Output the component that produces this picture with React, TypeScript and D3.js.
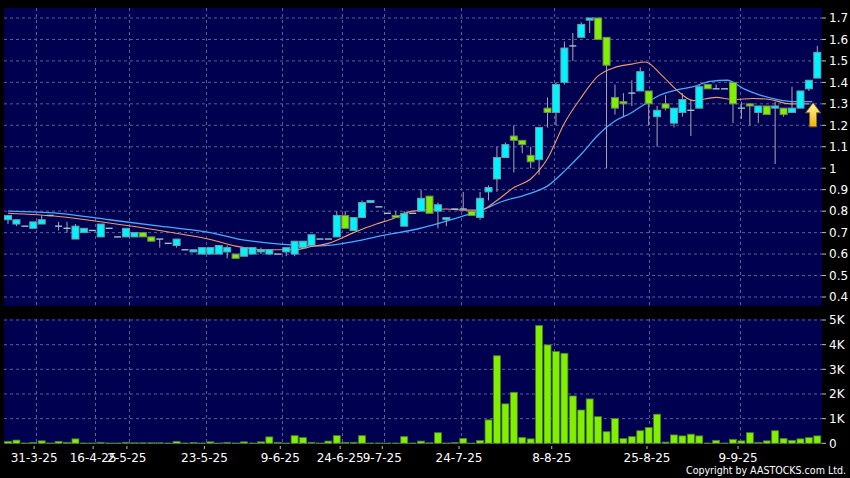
import React, { useEffect, useRef } from 'react';
import * as d3 from 'd3';

// daily OHLC, one entry per trading day shown (97 days)
const opens = [
  0.76, 0.74, 0.73, 0.72, 0.74, 0.78, 0.73, 0.72, 0.67, 0.70,
  0.71, 0.68, 0.72, 0.68, 0.68, 0.68, 0.70, 0.68, 0.67, 0.65,
  0.64, 0.62, 0.61, 0.60, 0.60, 0.60, 0.61, 0.60, 0.59, 0.60,
  0.61, 0.60, 0.60, 0.61, 0.60, 0.63, 0.64, 0.67, 0.67, 0.68,
  0.78, 0.71, 0.77, 0.84, 0.82, 0.79, 0.78, 0.73, 0.79, 0.80,
  0.87, 0.80, 0.76, 0.81, 0.81, 0.80, 0.77, 0.89, 0.95, 1.05,
  1.15, 1.13, 1.06, 1.04, 1.28, 1.26, 1.40, 1.57, 1.61, 1.69,
  1.70, 1.61, 1.33, 1.31, 1.35, 1.36, 1.36, 1.24, 1.30, 1.21,
  1.26, 1.27, 1.28, 1.39, 1.37, 1.37, 1.40, 1.28, 1.30, 1.26,
  1.29, 1.28, 1.28, 1.26, 1.28, 1.37, 1.42,
];
const highs = [
  0.78, 0.76, 0.73, 0.75, 0.78, 0.78, 0.75, 0.75, 0.74, 0.72,
  0.71, 0.74, 0.72, 0.68, 0.72, 0.70, 0.70, 0.68, 0.67, 0.65,
  0.67, 0.62, 0.62, 0.63, 0.63, 0.64, 0.64, 0.60, 0.63, 0.63,
  0.63, 0.62, 0.60, 0.63, 0.66, 0.66, 0.69, 0.67, 0.67, 0.80,
  0.80, 0.77, 0.85, 0.85, 0.82, 0.79, 0.80, 0.80, 0.79, 0.90,
  0.87, 0.84, 0.77, 0.81, 0.89, 0.80, 0.89, 0.92, 1.10, 1.12,
  1.20, 1.13, 1.10, 1.19, 1.33, 1.40, 1.59, 1.63, 1.68, 1.70,
  1.70, 1.61, 1.39, 1.35, 1.41, 1.47, 1.36, 1.29, 1.34, 1.28,
  1.35, 1.32, 1.39, 1.39, 1.39, 1.37, 1.40, 1.31, 1.30, 1.29,
  1.29, 1.31, 1.28, 1.38, 1.36, 1.41, 1.57,
];
const lows = [
  0.74, 0.73, 0.73, 0.72, 0.74, 0.78, 0.71, 0.70, 0.67, 0.70,
  0.71, 0.68, 0.72, 0.68, 0.68, 0.68, 0.68, 0.66, 0.63, 0.65,
  0.63, 0.62, 0.61, 0.60, 0.60, 0.60, 0.58, 0.58, 0.59, 0.60,
  0.60, 0.60, 0.60, 0.59, 0.59, 0.63, 0.64, 0.67, 0.67, 0.68,
  0.72, 0.71, 0.77, 0.84, 0.82, 0.79, 0.77, 0.73, 0.79, 0.80,
  0.79, 0.72, 0.73, 0.81, 0.81, 0.78, 0.76, 0.85, 0.89, 1.05,
  0.98, 1.07, 1.00, 0.97, 1.19, 1.20, 1.39, 1.50, 1.61, 1.63,
  1.60, 1.00, 1.25, 1.24, 1.29, 1.36, 1.20, 1.10, 1.27, 1.19,
  1.24, 1.15, 1.28, 1.37, 1.37, 1.37, 1.21, 1.23, 1.20, 1.21,
  1.25, 1.02, 1.24, 1.26, 1.28, 1.36, 1.42,
];
const closes = [
  0.78, 0.76, 0.73, 0.75, 0.76, 0.78, 0.73, 0.72, 0.73, 0.72,
  0.71, 0.74, 0.72, 0.68, 0.72, 0.70, 0.68, 0.66, 0.67, 0.65,
  0.67, 0.62, 0.62, 0.63, 0.63, 0.64, 0.63, 0.58, 0.63, 0.63,
  0.62, 0.62, 0.60, 0.63, 0.66, 0.66, 0.69, 0.67, 0.67, 0.78,
  0.72, 0.77, 0.84, 0.85, 0.82, 0.79, 0.77, 0.79, 0.79, 0.86,
  0.79, 0.83, 0.77, 0.81, 0.81, 0.78, 0.86, 0.91, 1.05, 1.11,
  1.13, 1.11, 1.03, 1.19, 1.26, 1.39, 1.56, 1.57, 1.67, 1.70,
  1.60, 1.48, 1.28, 1.30, 1.35, 1.45, 1.30, 1.27, 1.28, 1.28,
  1.32, 1.27, 1.38, 1.37, 1.37, 1.37, 1.30, 1.28, 1.29, 1.29,
  1.25, 1.29, 1.25, 1.28, 1.36, 1.41, 1.54,
];
// volume, thousands of shares
const volumes = [
  0.08, 0.13, 0.01, 0.04, 0.10, 0.01, 0.08, 0.04, 0.18, 0.01,
  0.01, 0.04, 0.01, 0.01, 0.04, 0.02, 0.02, 0.02, 0.02, 0.01,
  0.08, 0.01, 0.03, 0.01, 0.06, 0.01, 0.04, 0.01, 0.06, 0.01,
  0.06, 0.26, 0.04, 0.01, 0.31, 0.23, 0.04, 0.01, 0.09, 0.31,
  0.04, 0.04, 0.31, 0.01, 0.01, 0.01, 0.01, 0.27, 0.01, 0.09,
  0.02, 0.43, 0.01, 0.03, 0.20, 0.01, 0.11, 0.95, 3.55, 1.60,
  2.07, 0.24, 0.18, 4.78, 3.99, 3.72, 3.65, 1.92, 1.35, 1.80,
  1.08, 0.47, 1.01, 0.19, 0.27, 0.51, 0.64, 1.18, 0.05, 0.34,
  0.30, 0.37, 0.30, 0.01, 0.12, 0.01, 0.16, 0.10, 0.43, 0.04,
  0.10, 0.51, 0.19, 0.12, 0.18, 0.23, 0.30,
];

// moving averages: [day index, value]
const maShort: [number, number][] = [
  [0, 0.79], [6, 0.775], [12, 0.745], [18, 0.71], [21, 0.69], [24, 0.668],
  [27, 0.637], [31, 0.62], [34, 0.62], [36, 0.635], [38, 0.65], [41, 0.70],
  [43.7, 0.74], [45.3, 0.76], [48, 0.80], [52, 0.81], [54, 0.805], [56, 0.805],
  [58, 0.85], [60, 0.91], [62, 0.95], [64, 1.045], [66, 1.21], [68, 1.33],
  [70, 1.43], [72, 1.47], [74, 1.485], [75.6, 1.495], [77.5, 1.435],
  [79.3, 1.365], [81.3, 1.315], [84, 1.33], [86, 1.32], [88.4, 1.325],
  [90.4, 1.32], [92.8, 1.30], [95, 1.30],
];
const maLong: [number, number][] = [
  [0, 0.80], [6, 0.79], [12, 0.76], [18, 0.73], [24, 0.70], [27.3, 0.67],
  [31.3, 0.65], [34, 0.642], [37, 0.638], [41, 0.658], [44.8, 0.689],
  [48.7, 0.718], [52.4, 0.758], [54.2, 0.78], [56.2, 0.805], [58.6, 0.845],
  [61.3, 0.875], [64.1, 0.92], [66.1, 0.99], [68.1, 1.07], [70, 1.155],
  [72, 1.22], [73.8, 1.255], [75.6, 1.30], [77.3, 1.34], [79.3, 1.365],
  [81.3, 1.38], [83.3, 1.405], [85.3, 1.41], [87.3, 1.37], [89.3, 1.34],
  [91.3, 1.32], [93.3, 1.31], [95.4, 1.31],
];

const dateLabels = ['31-3-25', '16-4-25', '2-5-25', '23-5-25', '9-6-25', '24-6-25', '9-7-25', '24-7-25', '8-8-25', '25-8-25', '9-9-25'];
const dateIdx = [3.1, 10.1, 14.1, 23.3, 32.3, 39.4, 44.4, 53.5, 64.5, 75.8, 86.6];
const priceTicks = [0.4, 0.5, 0.6, 0.7, 0.8, 0.9, 1.0, 1.1, 1.2, 1.3, 1.4, 1.5, 1.6, 1.7];
const volTicks = [0, 1, 2, 3, 4, 5];

const W = 850;
const H = 478;
const FONT = '"DejaVu Sans", Verdana, sans-serif';

export default function App() {
  const svgRef = useRef<SVGSVGElement>(null);

  useEffect(() => {
    document.body.style.margin = '0';
    document.body.style.background = '#000';
    if (!svgRef.current) return;
    const svg = d3.select(svgRef.current);
    svg.selectAll('*').remove();

    const main = { left: 4, right: 822, top: 8, bottom: 306 };
    const vol = { top: 319, bottom: 444 };

    const x = d3.scaleLinear().domain([0, opens.length - 1]).range([8, 817.3]);
    const y = d3.scaleLinear().domain([0.4, 1.7]).range([297, 18]);
    const yv = d3.scaleLinear().domain([0, 5]).range([443.3, 320]);
    const bodyW = 7;

    svg.append('rect').attr('width', W).attr('height', H).attr('fill', '#000');

    const defs = svg.append('defs');
    const grad = defs.append('linearGradient').attr('id', 'arrowGrad')
      .attr('x1', 0).attr('y1', 0).attr('x2', 0).attr('y2', 1);
    grad.append('stop').attr('offset', '0%').attr('stop-color', '#fff6a8');
    grad.append('stop').attr('offset', '100%').attr('stop-color', '#f2b200');

    // panels
    svg.append('rect')
      .attr('x', main.left).attr('y', main.top)
      .attr('width', main.right - main.left).attr('height', main.bottom - main.top)
      .attr('fill', '#000050');
    svg.append('rect')
      .attr('x', main.left).attr('y', vol.top)
      .attr('width', main.right - main.left).attr('height', vol.bottom - vol.top)
      .attr('fill', '#000050');

    const gridColor = '#5c5c98';

    // horizontal grid
    svg.append('g').selectAll('line').data(priceTicks).enter().append('line')
      .attr('x1', main.left).attr('x2', main.right)
      .attr('y1', d => y(d)).attr('y2', d => y(d))
      .attr('stroke', gridColor).attr('stroke-dasharray', '3,3');
    svg.append('g').selectAll('line').data(volTicks).enter().append('line')
      .attr('x1', main.left).attr('x2', main.right)
      .attr('y1', d => yv(d)).attr('y2', d => yv(d))
      .attr('stroke', gridColor).attr('stroke-dasharray', '3,3');

    // vertical grid
    const vg = svg.append('g');
    dateIdx.forEach(i => {
      const gx = Math.round(x(i) + 2) + 0.5;
      [[main.top, main.bottom], [vol.top, vol.bottom]].forEach(([a, b]) => {
        vg.append('line')
          .attr('x1', gx).attr('x2', gx).attr('y1', a).attr('y2', b)
          .attr('stroke', gridColor).attr('stroke-dasharray', '3,3');
      });
    });

    // volume bars
    svg.append('g').selectAll('rect').data(volumes).enter().append('rect')
      .attr('x', (_d, i) => x(i) - bodyW / 2)
      .attr('y', d => yv(d))
      .attr('width', bodyW)
      .attr('height', d => Math.max(0.5, yv(0) - yv(d)))
      .attr('fill', '#80f000')
      .attr('stroke', '#4d7a2a')
      .attr('stroke-width', 0.8);

    // moving averages
    const line = d3.line<[number, number]>()
      .x(d => x(d[0]))
      .y(d => y(d[1]))
      .curve(d3.curveMonotoneX);
    svg.append('path').datum(maLong).attr('d', line)
      .attr('fill', 'none').attr('stroke', '#46aaff').attr('stroke-width', 1.3);
    svg.append('path').datum(maShort).attr('d', line)
      .attr('fill', 'none').attr('stroke', '#f09a6a').attr('stroke-width', 1.1);

    // candles
    const cg = svg.append('g');
    opens.forEach((o, i) => {
      const c = closes[i];
      const cx = x(i);
      cg.append('line')
        .attr('x1', cx).attr('x2', cx)
        .attr('y1', y(highs[i])).attr('y2', y(lows[i]))
        .attr('stroke', '#a8a8b0').attr('stroke-width', 1);
      if (o === c) {
        cg.append('line')
          .attr('x1', cx - bodyW / 2).attr('x2', cx + bodyW / 2)
          .attr('y1', y(o)).attr('y2', y(o))
          .attr('stroke', '#9cc4c8').attr('stroke-width', 1.4);
      } else {
        const up = c > o;
        cg.append('rect')
          .attr('x', cx - bodyW / 2)
          .attr('y', y(Math.max(o, c)))
          .attr('width', bodyW)
          .attr('height', Math.abs(y(o) - y(c)))
          .attr('fill', up ? '#00f4ff' : '#80f000')
          .attr('stroke', up ? '#6e9ea6' : '#6f8c58')
          .attr('stroke-width', 1);
      }
    });

    // arrow under the last candles
    const ax = x(95.5);
    const ay = y(1.305);
    svg.append('path')
      .attr('d', 'M0,0 L7.5,10 L3.5,10 L3.5,24 L-3.5,24 L-3.5,10 L-7.5,10 Z')
      .attr('transform', `translate(${ax},${ay})`)
      .attr('fill', 'url(#arrowGrad)')
      .attr('stroke', '#8a6a10')
      .attr('stroke-width', 1);

    // right axes
    const axisG = svg.append('g').style('font-family', FONT).style('font-size', '12px');
    priceTicks.forEach(t => {
      axisG.append('line')
        .attr('x1', 822).attr('x2', 826).attr('y1', y(t)).attr('y2', y(t))
        .attr('stroke', '#c0c0c0');
      axisG.append('text')
        .attr('x', 829).attr('y', y(t)).attr('dy', '0.36em')
        .attr('fill', '#fff')
        .text(d3.format('~g')(t));
    });
    volTicks.forEach(t => {
      axisG.append('line')
        .attr('x1', 822).attr('x2', 826).attr('y1', yv(t)).attr('y2', yv(t))
        .attr('stroke', '#c0c0c0');
      axisG.append('text')
        .attr('x', 829).attr('y', yv(t)).attr('dy', '0.36em')
        .attr('fill', '#fff')
        .text(t === 0 ? '0' : `${t}K`);
    });

    // date axis
    dateIdx.forEach((i, k) => {
      const tx = x(i);
      axisG.append('line')
        .attr('x1', tx).attr('x2', tx).attr('y1', 446).attr('y2', 449)
        .attr('stroke', '#c0c0c0');
      axisG.append('text')
        .attr('x', tx).attr('y', 462)
        .attr('text-anchor', 'middle')
        .attr('fill', '#fff')
        .text(dateLabels[k]);
    });

    svg.append('text')
      .attr('x', 686).attr('y', 474)
      .attr('textLength', 160)
      .attr('lengthAdjust', 'spacingAndGlyphs')
      .style('font-family', FONT).style('font-size', '10px')
      .attr('fill', '#fff')
      .text('Copyright by AASTOCKS.com Ltd.');
  }, []);

  return <svg ref={svgRef} width={W} height={H} style={{ display: 'block' }} />;
}
